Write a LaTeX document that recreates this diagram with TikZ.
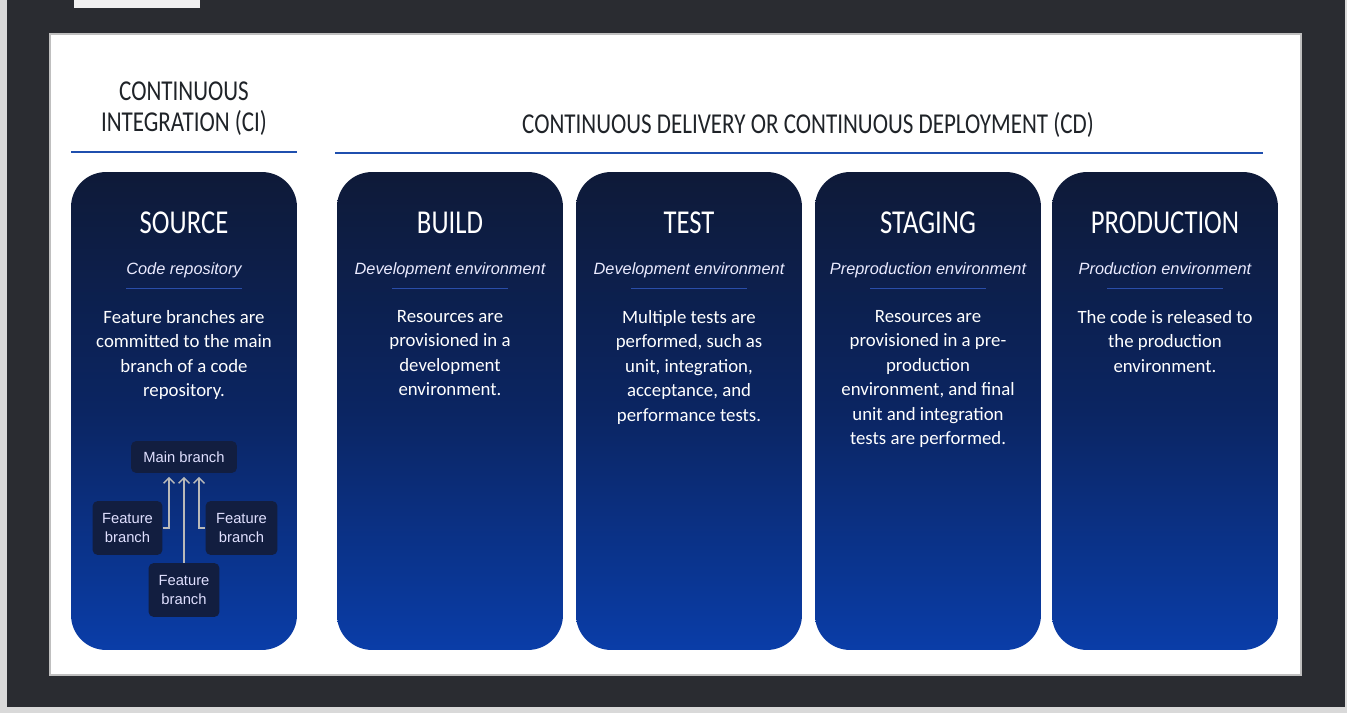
\documentclass[tikz,border=0pt]{standalone}
\usepackage{fontspec}
\setmainfont{Carlito}
\newfontfamily\headfont[FakeStretch=0.8]{Carlito}
\newfontfamily\arialfont{Liberation Sans}
\usetikzlibrary{arrows.meta,calc}
\definecolor{navytop}{HTML}{0E1A38}
\definecolor{navymid}{HTML}{0B2562}
\definecolor{navybot}{HTML}{0A3DA8}
\definecolor{rulebl}{HTML}{1F4FAE}
\definecolor{sepbl}{HTML}{2A4DA8}
\definecolor{boxnavy}{HTML}{121E40}
\definecolor{framegr}{HTML}{2A2C31}
\definecolor{inktxt}{HTML}{1F2328}

\begin{document}
\begin{tikzpicture}[x=0.02cm, y=-0.02cm, >=Straight Barb,
  panel/.style={minimum width=4.52cm, minimum height=9.56cm, rounded corners=0.7cm,
    top color=navytop, bottom color=navybot, middle color=navymid, inner sep=0pt},
  headtxt/.style={text=inktxt, font=\headfont\fontsize{16.4}{17.6}\selectfont, align=center, inner sep=0pt},
  hline/.style={rulebl, line width=1.7pt},
  ptitle/.style={text=white, font=\headfont\fontsize{19}{20}\selectfont, anchor=base, inner sep=0pt},
  psub/.style={text=white!92!blue, font=\arialfont\itshape\fontsize{9.3}{11}\selectfont, anchor=base, inner sep=0pt},
  pbody/.style={text=white, font=\fontsize{10.7}{13.95}\selectfont, align=center, anchor=north, inner sep=0pt},
  sepline/.style={sepbl, line width=0.5pt},
  brbox/.style={fill=boxnavy, rounded corners=3pt, text=white!88!blue, align=center,
    font=\arialfont\fontsize{8.4}{11.2}\selectfont, inner sep=0pt},
  brarrow/.style={->, draw=gray!55, line width=0.8pt, shorten >=2pt}]
  \useasboundingbox (0,0) rectangle (1347,713);
  \fill[gray!30] (0,0) rectangle (1347,713);
  \fill[framegr] (7,0) rectangle (1345,707);
  \fill[gray!12] (74,0) rectangle (200,8);
  \fill[white, draw=gray!50, line width=0.6pt] (50,34) rectangle (1301,675);

  \node[headtxt] (ci) at (184,109) {CONTINUOUS\\INTEGRATION (CI)};
  \node[headtxt] (cd) at (808,125) {CONTINUOUS DELIVERY OR CONTINUOUS DEPLOYMENT (CD)};
  \draw[hline] (71,152) -- (297,152);
  \draw[hline] (335,153) -- (1263,153);

  \node[panel] (src) at (184,411) {};
  \node[panel] (bld) at (450,411) {};
  \node[panel] (tst) at (689,411) {};
  \node[panel] (stg) at (928,411) {};
  \node[panel] (prd) at (1165,411) {};

  \node[ptitle] (srcT) at (184,234) {SOURCE};
  \node[ptitle] (bldT) at (450,234) {BUILD};
  \node[ptitle] (tstT) at (689,234) {TEST};
  \node[ptitle] (stgT) at (928,234) {STAGING};
  \node[ptitle] (prdT) at (1165,234) {PRODUCTION};

  \node[psub] (srcS) at (184,275) {Code repository};
  \node[psub] (bldS) at (450,275) {Development environment};
  \node[psub] (tstS) at (689,275) {Development environment};
  \node[psub] (stgS) at (928,275) {Preproduction environment};
  \node[psub] (prdS) at (1165,275) {Production environment};
  \draw[sepline] (126,288) -- (242,288);
  \draw[sepline] (392,288) -- (508,288);
  \draw[sepline] (631,288) -- (747,288);
  \draw[sepline] (870,288) -- (986,288);
  \draw[sepline] (1107,288) -- (1223,288);

  \node[pbody] (srcB) at (184,310) {Feature branches are\\committed to the main\\branch of a code\\repository.};
  \node[pbody] (bldB) at (450,310) {Resources are\\provisioned in a\\development\\environment.};
  \node[pbody] (tstB) at (689,310) {Multiple tests are\\performed, such as\\unit, integration,\\acceptance, and\\performance tests.};
  \node[pbody] (stgB) at (928,310) {Resources are\\provisioned in a pre-\\production\\environment, and final\\unit and integration\\tests are performed.};
  \node[pbody] (prdB) at (1165,310) {The code is released to\\the production\\environment.};

  \node[brbox, minimum width=2.12cm, minimum height=0.64cm] (main) at (184,457) {Main branch};
  \node[brbox, minimum width=1.4cm, minimum height=1.08cm] (featL) at (127.5,528) {Feature\\branch};
  \node[brbox, minimum width=1.44cm, minimum height=1.08cm] (featR) at (241.5,528) {Feature\\branch};
  \node[brbox, minimum width=1.42cm, minimum height=1.08cm] (featB) at (184,590) {Feature\\branch};
  \draw[brarrow] (featL.east) -| ($(main.south)+(-15,0)$);
  \draw[brarrow] (featR.west) -| ($(main.south)+(15,0)$);
  \draw[brarrow] (featB.north) -- (main.south);
\end{tikzpicture}
\end{document}
